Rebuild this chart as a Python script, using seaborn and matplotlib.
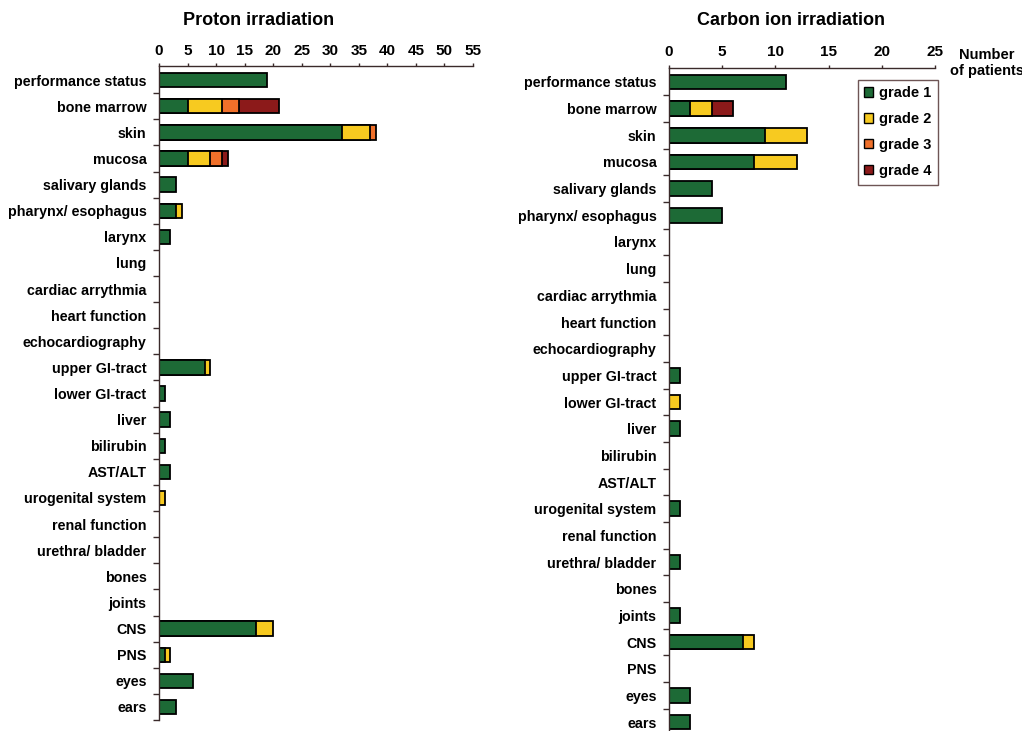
import numpy as np
import pandas as pd
import seaborn as sns
import matplotlib.pyplot as plt
from matplotlib.patches import Patch
from matplotlib.ticker import FixedLocator

sns.set_style("white")
plt.rcParams['font.family'] = ['Liberation Sans', 'DejaVu Sans']
plt.rcParams['font.weight'] = 'bold'
plt.rcParams['text.color'] = 'black'
plt.rcParams['xtick.color'] = 'black'
plt.rcParams['ytick.color'] = 'black'

categories = ["performance status", "bone marrow", "skin", "mucosa", "salivary glands",
              "pharynx/ esophagus", "larynx", "lung", "cardiac arrythmia", "heart function",
              "echocardiography", "upper GI-tract", "lower GI-tract", "liver", "bilirubin",
              "AST/ALT", "urogenital system", "renal function", "urethra/ bladder", "bones",
              "joints", "CNS", "PNS", "eyes", "ears"]

proton_g1 = [19, 5, 32, 5, 3, 3, 2, 0, 0, 0, 0, 8, 1, 2, 1, 2, 0, 0, 0, 0, 0, 17, 1, 6, 3]
proton_g2 = [0, 6, 5, 4, 0, 1, 0, 0, 0, 0, 0, 1, 0, 0, 0, 0, 1, 0, 0, 0, 0, 3, 1, 0, 0]
proton_g3 = [0, 3, 1, 2, 0, 0, 0, 0, 0, 0, 0, 0, 0, 0, 0, 0, 0, 0, 0, 0, 0, 0, 0, 0, 0]
proton_g4 = [0, 7, 0, 1, 0, 0, 0, 0, 0, 0, 0, 0, 0, 0, 0, 0, 0, 0, 0, 0, 0, 0, 0, 0, 0]

carbon_g1 = [11, 2, 9, 8, 4, 5, 0, 0, 0, 0, 0, 1, 0, 1, 0, 0, 1, 0, 1, 0, 1, 7, 0, 2, 2]
carbon_g2 = [0, 2, 4, 4, 0, 0, 0, 0, 0, 0, 0, 0, 1, 0, 0, 0, 0, 0, 0, 0, 0, 1, 0, 0, 0]
carbon_g3 = [0, 0, 0, 0, 0, 0, 0, 0, 0, 0, 0, 0, 0, 0, 0, 0, 0, 0, 0, 0, 0, 0, 0, 0, 0]
carbon_g4 = [0, 2, 0, 0, 0, 0, 0, 0, 0, 0, 0, 0, 0, 0, 0, 0, 0, 0, 0, 0, 0, 0, 0, 0, 0]

grade_labels = ["grade 1", "grade 2", "grade 3", "grade 4"]
grade_colors = ["#1d6a36", "#f7ca20", "#f0702a", "#8c1a1a"]

titles = ["Proton irradiation", "Carbon ion irradiation"]
x_max = [55, 25]
x_ticks = [list(range(0, 56, 5)), list(range(0, 26, 5))]

fig = plt.figure(figsize=(10.22, 7.31), dpi=100)
fig.patch.set_facecolor('white')

n = len(categories)
axes_rects = [[159 / 1022, 1 - 720 / 731, 314 / 1022, (720 - 66) / 731],
              [669 / 1022, 1 - 735.5 / 731, 266 / 1022, (735.5 - 67.5) / 731]]


def draw(ax, grades, xmax, ticks):
    g = [np.array(v, dtype=float) for v in grades]
    cums = np.cumsum(np.vstack(g), axis=0)
    for k in range(3, -1, -1):
        vals = np.where(g[k] > 0, cums[k], np.nan)
        df = pd.DataFrame({"cat": categories, "val": vals}).dropna()
        if df.empty:
            continue
        sns.barplot(data=df, x="val", y="cat", order=categories, orient="h",
                    color=grade_colors[k], saturation=1, edgecolor="black",
                    linewidth=1.3, width=0.55, ax=ax)
    ax.set_xlim(0, xmax)
    ax.set_ylim(n - 0.5, -0.54)
    ax.set_xlabel("")
    ax.set_ylabel("")
    ax.xaxis.tick_top()
    ax.set_xticks(ticks)
    ax.set_xticklabels([str(t) for t in ticks], fontsize=11, fontweight='bold')
    ax.tick_params(axis='x', length=2.5, width=1, direction='out', pad=3.5,
                   color='#3a2a2a', labelcolor='black')
    ax.set_yticks(range(n))
    ax.set_yticklabels(categories, fontsize=10.3, fontweight='bold')
    ax.tick_params(axis='y', which='major', length=0, pad=9, labelcolor='black')
    ax.yaxis.set_minor_locator(FixedLocator([i + 0.5 for i in range(n)]))
    ax.tick_params(axis='y', which='minor', length=4, width=1, direction='out',
                   color='#3a2a2a', left=True)
    for s in ["bottom", "right"]:
        ax.spines[s].set_visible(False)
    for s in ["top", "left"]:
        ax.spines[s].set_color('#3a2a2a')
        ax.spines[s].set_linewidth(1.0)
    ax.set_facecolor('white')


ax1 = fig.add_axes(axes_rects[0])
draw(ax1, [proton_g1, proton_g2, proton_g3, proton_g4], x_max[0], x_ticks[0])
ax2 = fig.add_axes(axes_rects[1])
draw(ax2, [carbon_g1, carbon_g2, carbon_g3, carbon_g4], x_max[1], x_ticks[1])

fig.text(259 / 1022, 1 - 20.5 / 731, titles[0], ha='center', va='center',
         fontsize=13, fontweight='bold', color='black')
fig.text(791 / 1022, 1 - 20.5 / 731, titles[1], ha='center', va='center',
         fontsize=13, fontweight='bold', color='black')
fig.text(987 / 1022, 1 - 63 / 731, "Number\nof patients", ha='center', va='center',
         fontsize=10.5, fontweight='bold', linespacing=1.2, color='black')

handles = [Patch(facecolor=c, edgecolor='black', linewidth=1.0, label=l)
           for c, l in zip(grade_colors, grade_labels)]
leg = ax2.legend(handles=handles, loc='upper left', bbox_to_anchor=(857.5 / 1022, 1 - 79.5 / 731),
                 bbox_transform=fig.transFigure, frameon=True, fancybox=False,
                 handlelength=0.6, handleheight=0.6, handletextpad=0.45, labelspacing=0.82,
                 borderpad=0.45, prop={'size': 10.5, 'weight': 'bold'}, borderaxespad=0)
leg.get_frame().set_edgecolor('#4a2a2a')
leg.get_frame().set_linewidth(1.0)
for t in leg.get_texts():
    t.set_color('black')

fig.savefig("out.png", dpi=100, facecolor='white')
